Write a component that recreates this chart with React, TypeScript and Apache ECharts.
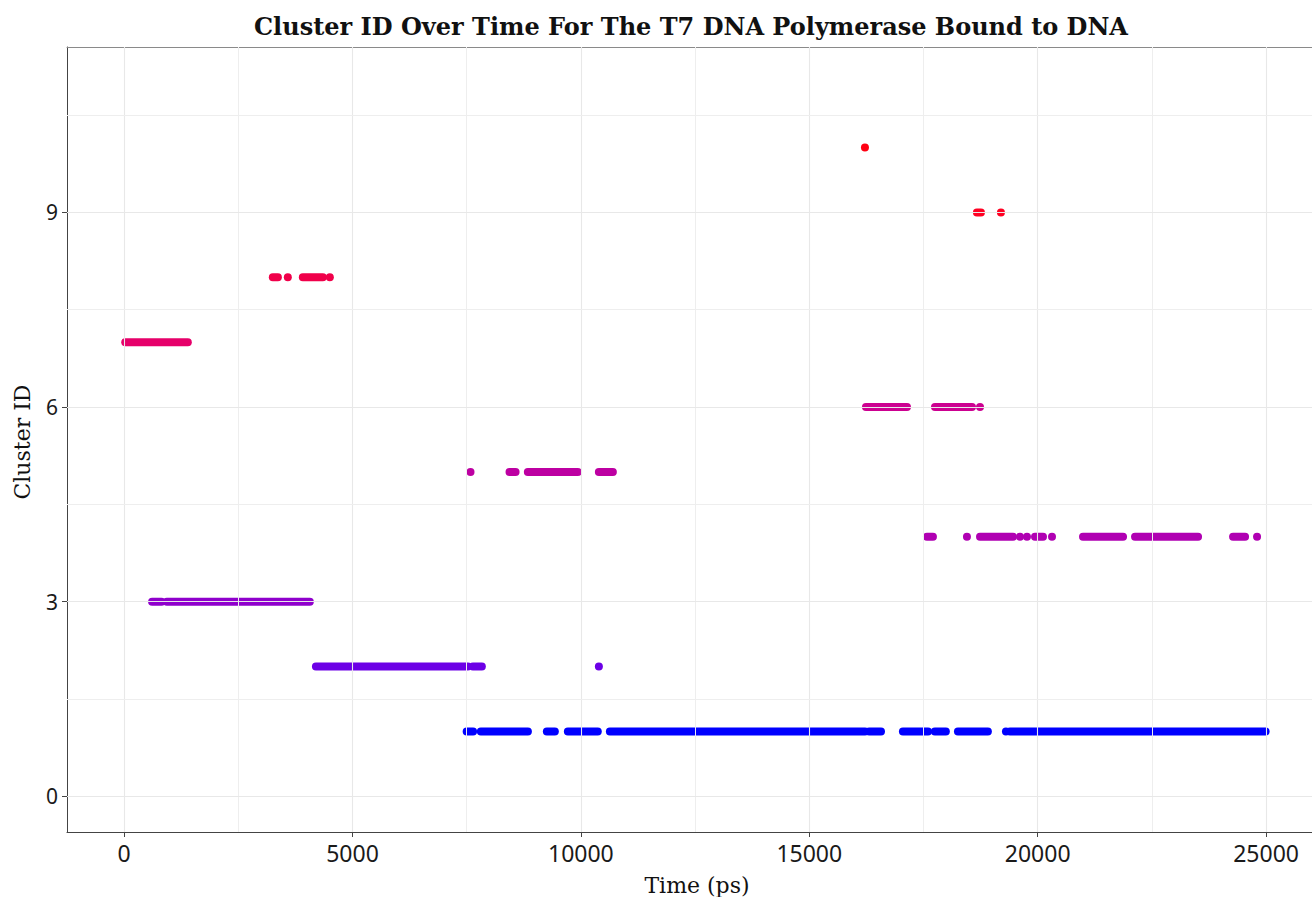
import React, { useEffect, useRef } from "react";
import * as echarts from "echarts";

// Runs of consecutive frames in each cluster: [start time (ps), end time (ps)]
const cluster1 = [[7500, 7640], [7810, 8840], [9255, 9430], [9715, 10370], [10635, 16220], [16310, 16570], [17050, 17600], [17750, 17990], [18255, 18910], [19306, 19306], [19394, 24990]];
const cluster2 = [[4200, 7526], [7635, 7832], [10394, 10394]];
const cluster3 = [[613, 819], [935, 4066]];
const cluster4 = [[17576, 17707], [18452, 18452], [18738, 19460], [19613, 19613], [19766, 19766], [19942, 20117], [20314, 20314], [20993, 21869], [22132, 23511], [24278, 24540], [24803, 24803]];
const cluster5 = [[7584, 7584], [8438, 8570], [8839, 9933], [10394, 10700]];
const cluster6 = [[16241, 17139], [17752, 18563], [18738, 18738]];
const cluster7 = [[25, 1395]];
const cluster8 = [[3256, 3366], [3584, 3584], [3913, 4351], [4504, 4504]];
const cluster9 = [[18670, 18758], [19196, 19196]];
const cluster10 = [[16219, 16219]];

const clusterIds = [1, 2, 3, 4, 5, 6, 7, 8, 9, 10];
const clusterRuns = [cluster1, cluster2, cluster3, cluster4, cluster5, cluster6, cluster7, cluster8, cluster9, cluster10];
const clusterColors = ["#0000ff", "#6c00e6", "#8f00cc", "#b000b2", "#bd00a2", "#cc0090", "#e6006a", "#f0004a", "#ff0022", "#ff0012"];

const X_TICKS = [0, 5000, 10000, 15000, 20000, 25000];
const X_MINOR = [2500, 7500, 12500, 17500, 22500];
const Y_TICKS = [0, 3, 6, 9];
const Y_MINOR = [1.5, 4.5, 7.5, 10.5];

const TITLE = "Cluster ID Over Time For The T7 DNA Polymerase Bound to DNA";
const X_TITLE = "Time (ps)";
const Y_TITLE = "Cluster ID";

export default function App() {
  const ref = useRef<HTMLDivElement>(null);
  useEffect(() => {
    if (!ref.current) return;
    const chart = echarts.init(ref.current, null, { renderer: "svg" });
    const R = 4;
    const clusterSeries = clusterIds.map((id, i) => ({
      type: "custom",
      name: "Cluster " + id,
      z: 3,
      color: clusterColors[i],
      encode: { x: [0, 1], y: 2 },
      data: clusterRuns[i].map((r) => [r[0], r[1], id]),
      renderItem: (params: any, api: any) => {
        const y = api.value(2);
        const p0 = api.coord([api.value(0), y]);
        const p1 = api.coord([api.value(1), y]);
        return {
          type: "rect",
          shape: { x: p0[0] - R, y: p0[1] - R, width: p1[0] - p0[0] + 2 * R, height: 2 * R, r: R },
          style: { fill: clusterColors[i] },
        };
      },
    }));
    const gridMajor = { color: "#e8e8e8", width: 1.1, type: "solid" };
    const gridMinor = { color: "#eeeeee", width: 1, type: "solid" };
    const gridLines: any[] = [];
    X_TICKS.forEach((v) => gridLines.push({ xAxis: v, lineStyle: gridMajor }));
    X_MINOR.forEach((v) => gridLines.push({ xAxis: v, lineStyle: gridMinor }));
    Y_TICKS.forEach((v) => gridLines.push({ yAxis: v, lineStyle: gridMajor }));
    Y_MINOR.forEach((v) => gridLines.push({ yAxis: v, lineStyle: gridMinor }));

    chart.setOption({
      animation: false,
      grid: {
        left: 67,
        top: 47,
        right: 0,
        bottom: 65,
        show: false,
      },
      xAxis: [
        {
          type: "value",
          min: -1250,
          max: 26006,
          splitLine: { show: false },
          axisLine: { show: true, onZero: false, lineStyle: { color: "#444", width: 1 } },
          axisTick: { show: true, customValues: X_TICKS, length: 5, lineStyle: { color: "#444" } },
          axisLabel: {
            customValues: X_TICKS,
            formatter: (v: number) => String(v),
            margin: 9,
            color: "#1a1a1a",
            fontFamily: "Noto Sans",
            fontSize: 23,
          },
        },
        {
          type: "value",
          position: "top",
          min: -1250,
          max: 26006,
          splitLine: { show: false },
          axisLine: { show: true, onZero: false, lineStyle: { color: "#8a8a8a", width: 1 } },
          axisTick: { show: false },
          axisLabel: { show: false },
        },
      ],
      yAxis: {
        type: "value",
        min: -0.55,
        max: 11.55,
        splitLine: { show: false },
        axisLine: { show: true, onZero: false, lineStyle: { color: "#444", width: 1 } },
        axisTick: { show: true, customValues: Y_TICKS, length: 5, lineStyle: { color: "#444" } },
        axisLabel: {
          customValues: Y_TICKS,
          formatter: (v: number) => String(v),
          margin: 9,
          color: "#1a1a1a",
          fontFamily: "Noto Sans",
          fontSize: 21,
        },
      },
      graphic: [
        {
          type: "text",
          x: 691,
          y: 26,
          style: {
            text: TITLE,
            textAlign: "center",
            textVerticalAlign: "middle",
            font: "bold 24px 'DejaVu Serif'",
            fill: "#111",
          },
        },
        {
          type: "text",
          x: 697,
          y: 885,
          style: {
            text: X_TITLE,
            textAlign: "center",
            textVerticalAlign: "middle",
            font: "22px 'DejaVu Serif'",
            fill: "#111",
          },
        },
        {
          type: "text",
          x: 22,
          y: 442,
          rotation: Math.PI / 2,
          style: {
            text: Y_TITLE,
            textAlign: "center",
            textVerticalAlign: "middle",
            font: "22px 'DejaVu Serif'",
            fill: "#111",
          },
        },
        {
          type: "rect",
          z: 2,
          shape: { x: 130, y: 455, width: 175, height: 63 },
          style: { fill: "#ffffff" },
        },
      ],
      series: [
        {
          type: "line",
          z: 1,
          data: [],
          silent: true,
          markLine: { silent: true, symbol: "none", label: { show: false }, data: gridLines },
        },
        ...clusterSeries,
      ],
    });
    return () => chart.dispose();
  }, []);
  return <div ref={ref} style={{ position: "absolute", left: 0, top: 0, width: 1312, height: 897 }} />;
}
